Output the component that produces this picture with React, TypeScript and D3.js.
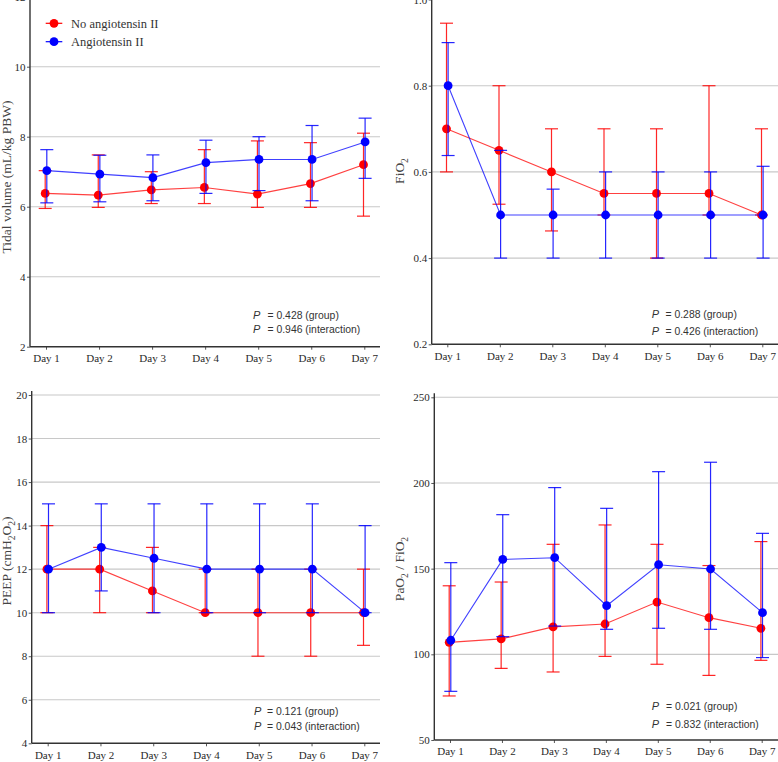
import { useEffect, useRef } from 'react'
import * as d3 from 'd3'

const W = 778, H = 762
const SERIF = 'Liberation Serif, Times New Roman, serif'
const SANS = 'Liberation Sans, Arial, sans-serif'
const RED = '#ff0000', BLUE = '#0000ff'

const days = ['Day 1', 'Day 2', 'Day 3', 'Day 4', 'Day 5', 'Day 6', 'Day 7']
const groups = ['No angiotensin II', 'Angiotensin II']

// Tidal volume (mL/kg PBW)
const tvNoMean = [6.38, 6.33, 6.48, 6.55, 6.36, 6.66, 7.2]
const tvNoHi = [7.03, 7.48, 7.0, 7.63, 7.88, 7.83, 8.1]
const tvNoLo = [5.95, 5.98, 6.09, 6.09, 5.98, 5.98, 5.73]
const tvAngMean = [7.03, 6.93, 6.83, 7.26, 7.35, 7.35, 7.85]
const tvAngHi = [7.63, 7.47, 7.48, 7.9, 8.0, 8.32, 8.53]
const tvAngLo = [6.11, 6.14, 6.17, 6.38, 6.46, 6.17, 6.81]

// FiO2
const fiNoMean = [0.7, 0.65, 0.6, 0.55, 0.55, 0.55, 0.5]
const fiNoHi = [0.945, 0.8, 0.7, 0.7, 0.7, 0.8, 0.7]
const fiNoLo = [0.6, 0.525, 0.463, 0.5, 0.4, 0.5, 0.5]
const fiAngMean = [0.8, 0.5, 0.5, 0.5, 0.5, 0.5, 0.5]
const fiAngHi = [0.9, 0.65, 0.56, 0.6, 0.6, 0.6, 0.613]
const fiAngLo = [0.638, 0.4, 0.4, 0.4, 0.4, 0.4, 0.4]

// PEEP (cmH2O)
const peNoMean = [12, 12, 11, 10, 10, 10, 10]
const peNoHi = [14, 13, 13, 12, 12, 12, 12]
const peNoLo = [10, 10, 10, 10, 8, 8, 8.5]
const peAngMean = [12, 13, 12.5, 12, 12, 12, 10]
const peAngHi = [15, 15, 15, 15, 15, 15, 14]
const peAngLo = [10, 11, 10, 10, 10, 10, 10]

// PaO2 / FiO2
const pfNoMean = [107, 109, 116, 117.7, 130.5, 121.4, 115.2]
const pfNoHi = [140, 142.2, 164.2, 175.5, 164.2, 151.8, 165.8]
const pfNoLo = [75.7, 91.8, 89.7, 98.8, 94.2, 87.7, 96.5]
const pfAngMean = [108.2, 155.4, 156.4, 128.4, 152.3, 149.8, 124.3]
const pfAngHi = [153.5, 181.5, 197.3, 185.2, 206.6, 212.1, 170.6]
const pfAngLo = [78.4, 110.3, 116.5, 114.6, 115.2, 114.6, 98.1]

const pGroup = ['0.428', '0.288', '0.121', '0.021']
const pInter = ['0.946', '0.426', '0.043', '0.832']

type Part = { t: string, sub?: boolean }

interface Panel {
  left: number, right: number, day1: number, day7: number
  top: number, bottom: number, domain: [number, number]
  ticks: number[], fmt: (v: number) => string
  label: Part[], labelX: number, labelY: number
  pX: number, eqX: number, pY: number, pGap: number
  series: { mean: number[], hi: number[], lo: number[] }[]
  legend?: boolean
}

const panels: Panel[] = [
  {
    left: 30, right: 380, day1: 46, day7: 364.3, top: -3.3, bottom: 346.7, domain: [2, 12],
    ticks: [2, 4, 6, 8, 10, 12], fmt: d3.format('d'),
    label: [{ t: 'Tidal volume (mL/kg PBW)' }], labelX: 11, labelY: 177,
    pX: 253, eqX: 267.5, pY: 318.5, pGap: 14,
    series: [
      { mean: tvNoMean, hi: tvNoHi, lo: tvNoLo },
      { mean: tvAngMean, hi: tvAngHi, lo: tvAngLo },
    ],
    legend: true,
  },
  {
    left: 431.7, right: 778, day1: 447.3, day7: 762.3, top: -0.5, bottom: 344.3, domain: [0.2, 1.0],
    ticks: [0.2, 0.4, 0.6, 0.8, 1.0], fmt: d3.format('.1f'),
    label: [{ t: 'FiO' }, { t: '2', sub: true }], labelX: 404, labelY: 171,
    pX: 651.7, eqX: 665.5, pY: 317.5, pGap: 17,
    series: [
      { mean: fiNoMean, hi: fiNoHi, lo: fiNoLo },
      { mean: fiAngMean, hi: fiAngHi, lo: fiAngLo },
    ],
  },
  {
    left: 31.7, right: 380, day1: 47.7, day7: 364.3, top: 395, bottom: 743.3, domain: [4, 20],
    ticks: [4, 6, 8, 10, 12, 14, 16, 18, 20], fmt: d3.format('d'),
    label: [{ t: 'PEEP (cmH' }, { t: '2', sub: true }, { t: 'O' }, { t: '2', sub: true }, { t: ')' }],
    labelX: 11, labelY: 561,
    pX: 254, eqX: 267, pY: 714.5, pGap: 15.5,
    series: [
      { mean: peNoMean, hi: peNoHi, lo: peNoLo },
      { mean: peAngMean, hi: peAngHi, lo: peAngLo },
    ],
  },
  {
    left: 434.3, right: 778, day1: 450, day7: 761.7, top: 397.3, bottom: 740, domain: [50, 250],
    ticks: [50, 100, 150, 200, 250], fmt: d3.format('d'),
    label: [{ t: 'PaO' }, { t: '2', sub: true }, { t: ' / FiO' }, { t: '2', sub: true }],
    labelX: 404, labelY: 569,
    pX: 651.7, eqX: 666, pY: 710, pGap: 17.5,
    series: [
      { mean: pfNoMean, hi: pfNoHi, lo: pfNoLo },
      { mean: pfAngMean, hi: pfAngHi, lo: pfAngLo },
    ],
  },
]

const colors = [RED, BLUE]
const dodge = [-0.8, 0.8]

function addParts(text: d3.Selection<SVGTextElement, unknown, null, undefined>, parts: Part[]) {
  let shifted = false
  parts.forEach(p => {
    const ts = text.append('tspan').text(p.t)
    if (p.sub && !shifted) { ts.attr('dy', 3.5).attr('font-size', 9.5); shifted = true }
    else if (!p.sub && shifted) { ts.attr('dy', -3.5); shifted = false }
  })
}

export default function App() {
  const svgRef = useRef<SVGSVGElement>(null)

  useEffect(() => {
    const svg = d3.select(svgRef.current!)
    svg.selectAll('*').remove()

    panels.forEach((p, pi) => {
      const g = svg.append('g')
      const x = d3.scalePoint<string>().domain(days).range([p.day1, p.day7])
      const y = d3.scaleLinear().domain(p.domain).range([p.bottom, p.top])

      // gridlines
      p.ticks.slice(1).forEach(v => {
        g.append('line')
          .attr('x1', p.left).attr('x2', p.right)
          .attr('y1', y(v)).attr('y2', y(v))
          .attr('stroke', '#c8c8c8').attr('stroke-width', 1.1)
      })

      // y axis
      g.append('g').attr('transform', `translate(${p.left},0)`)
        .call(d3.axisLeft(y).tickValues(p.ticks).tickSize(3).tickPadding(1.5).tickFormat(v => p.fmt(+v)))
        .call(ax => ax.select('.domain').remove())
        .call(ax => ax.selectAll('.tick line').attr('stroke', '#555'))
        .call(ax => ax.selectAll<SVGTextElement, unknown>('.tick text')
          .attr('font-size', 11).attr('font-family', SERIF).attr('fill', '#2a2a2a'))

      // x axis
      g.append('g').attr('transform', `translate(0,${p.bottom})`)
        .call(d3.axisBottom(x).tickSize(3).tickPadding(4.5))
        .call(ax => ax.select('.domain').remove())
        .call(ax => ax.selectAll('.tick line').attr('stroke', '#555'))
        .call(ax => ax.selectAll<SVGTextElement, unknown>('.tick text')
          .attr('font-size', 11).attr('font-family', SERIF).attr('fill', '#2a2a2a'))

      // axis lines
      g.append('line').attr('x1', p.left).attr('x2', p.left)
        .attr('y1', p.bottom).attr('y2', Math.min(p.top, y(p.domain[1])) - 4)
        .attr('stroke', '#333').attr('stroke-width', 1.4)
      g.append('line').attr('x1', p.left).attr('x2', p.right)
        .attr('y1', p.bottom).attr('y2', p.bottom)
        .attr('stroke', '#333').attr('stroke-width', 1.4)

      // y label
      const lab = g.append('text')
        .attr('transform', `translate(${p.labelX},${p.labelY}) rotate(-90)`)
        .attr('text-anchor', 'middle')
        .attr('font-size', 13.5).attr('font-family', SERIF).attr('fill', '#444')
      addParts(lab, p.label)

      // series
      p.series.forEach((s, si) => {
        const c = colors[si]
        const xs = (i: number) => x(days[i])! + dodge[si]
        const line = d3.line<number>().x((_, i) => xs(i)).y(v => y(v))
        g.append('path').datum(s.mean)
          .attr('fill', 'none').attr('stroke', c).attr('stroke-opacity', 0.75)
          .attr('stroke-width', 1.1).attr('d', line)

        const eb = g.append('g').attr('stroke', c).attr('stroke-width', 1.2).attr('stroke-opacity', 0.85)
        s.mean.forEach((_, i) => {
          const cx = xs(i)
          eb.append('line').attr('x1', cx).attr('x2', cx).attr('y1', y(s.lo[i])).attr('y2', y(s.hi[i]))
          ;[s.lo[i], s.hi[i]].forEach(v => {
            eb.append('line').attr('x1', cx - 6.5).attr('x2', cx + 6.5).attr('y1', y(v)).attr('y2', y(v))
          })
        })

        g.selectAll(null).data(s.mean).enter().append('circle')
          .attr('cx', (_, i) => xs(i)).attr('cy', v => y(v))
          .attr('r', 4.4).attr('fill', c)
      })

      // p values
      ;[`= ${pGroup[pi]} (group)`, `= ${pInter[pi]} (interaction)`].forEach((t, k) => {
        const ty = p.pY + k * p.pGap
        g.append('text').attr('x', p.pX).attr('y', ty)
          .attr('font-size', 11).attr('font-style', 'italic').attr('font-family', SANS)
          .attr('fill', '#333').text('P')
        g.append('text').attr('x', p.eqX).attr('y', ty)
          .attr('font-size', 10.4).attr('font-family', SANS)
          .attr('fill', '#333').text(t)
      })

      // legend
      if (p.legend) {
        groups.forEach((name, k) => {
          const ly = 23.3 + k * 18.4
          g.append('line').attr('x1', 45.7).attr('x2', 62.3).attr('y1', ly).attr('y2', ly)
            .attr('stroke', colors[k]).attr('stroke-width', 1.2)
          g.append('circle').attr('cx', 54).attr('cy', ly).attr('r', 4.4).attr('fill', colors[k])
          g.append('text').attr('x', 71).attr('y', ly + 4.3)
            .attr('font-size', 12.5).attr('font-family', SERIF).attr('fill', '#333').text(name)
        })
      }
    })
  }, [])

  return (
    <svg ref={svgRef} width={W} height={H} viewBox={`0 0 ${W} ${H}`}
      style={{ position: 'absolute', left: 0, top: 0, background: '#fff' }} />
  )
}
